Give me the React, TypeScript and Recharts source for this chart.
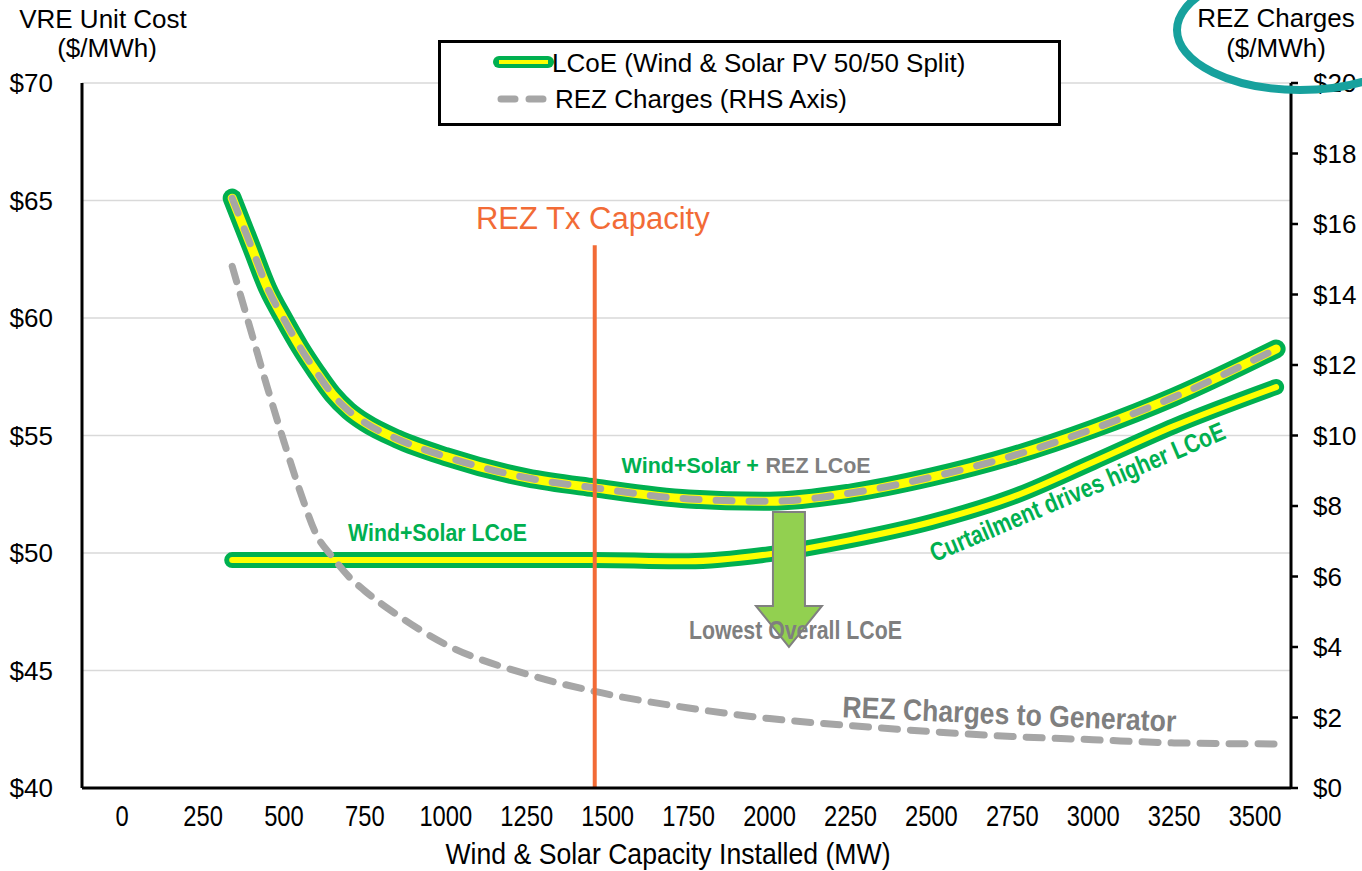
import {
  LineChart,
  Line,
  XAxis,
  YAxis,
  CartesianGrid,
  ReferenceLine,
  ReferenceDot,
  Legend,
} from 'recharts';

// Wind & solar capacity installed (MW)
const capacity = [340, 400, 450, 500, 550, 600, 650, 700, 750, 850, 1000, 1250, 1460, 1750, 2000, 2250, 2500, 2750, 3000, 3250, 3565];
// Wind+Solar + REZ LCoE ($/MWh, LHS)
const lcoeWithRez = [65.1, 63.0, 61.25, 59.95, 58.75, 57.7, 56.75, 56.05, 55.55, 54.85, 54.1, 53.2, 52.77, 52.3, 52.2, 52.55, 53.23, 54.13, 55.28, 56.64, 58.68];
// Wind+Solar LCoE ($/MWh, LHS)
const lcoeOnly = [49.7, 49.7, 49.7, 49.7, 49.7, 49.7, 49.7, 49.7, 49.7, 49.7, 49.7, 49.7, 49.7, 49.65, 49.95, 50.55, 51.32, 52.38, 53.87, 55.4, 57.06];
// REZ charges to generator ($/MWh, RHS)
const rezCharges = [14.8, 12.9, 11.32, 9.82, 8.41, 7.19, 6.55, 6.0, 5.59, 4.91, 4.07, 3.23, 2.74, 2.27, 1.97, 1.77, 1.6, 1.46, 1.37, 1.28, 1.25];

const xTicks = [0, 250, 500, 750, 1000, 1250, 1500, 1750, 2000, 2250, 2500, 2750, 3000, 3250, 3500];
const leftTicks = [40, 45, 50, 55, 60, 65, 70];
const rightTicks = [0, 2, 4, 6, 8, 10, 12, 14, 16, 18, 20];

const REZ_TX_CAPACITY = 1460;

const data = capacity.map((c, i) => ({
  capacity: c,
  lcoeRez: lcoeWithRez[i],
  lcoe: lcoeOnly[i],
  rez: rezCharges[i],
}));

const GREEN = '#00B050';
const YELLOW = '#FFFF00';
const GREY = '#A6A6A6';
const GREY_TEXT = '#7F7F7F';
const ORANGE = '#F26B36';
const SANS = "'Liberation Sans', Arial, sans-serif";

// the original uses a narrow face; squeeze regular glyphs to the measured widths
function XTick(p: any) {
  const label = String(p.payload.value);
  return (
    <text
      x={p.x}
      y={p.y}
      dy="0.71em"
      textAnchor="middle"
      fontSize={30}
      fontFamily={SANS}
      fill="#000"
      textLength={label.length * 13.2}
      lengthAdjust="spacingAndGlyphs"
    >
      {label}
    </text>
  );
}

function LegendBox() {
  return (
    <svg width={623} height={86} style={{ display: 'block' }}>
      <rect x={1.5} y={1.5} width={620} height={83} fill="#fff" stroke="#000" strokeWidth={3} />
      <line x1={61} y1={22} x2={110} y2={22} stroke={GREEN} strokeWidth={12} strokeLinecap="round" />
      <line x1={61} y1={22} x2={110} y2={22} stroke={YELLOW} strokeWidth={4} />
      <text x={114} y={32} fontSize={26} fontFamily={SANS} fill="#000">LCoE (Wind &amp; Solar PV 50/50 Split)</text>
      <line x1={63} y1={59} x2={112} y2={59} stroke={GREY} strokeWidth={7} strokeDasharray="14 14" strokeLinecap="round" />
      <text x={117} y={68} fontSize={26} fontFamily={SANS} fill="#000">REZ Charges (RHS Axis)</text>
    </svg>
  );
}

type TextOpts = { fill?: string; size?: number; anchor?: string; rotate?: number; central?: boolean; length?: number; dx?: number };

function textShape(label: string, opts: TextOpts) {
  return (p: any) => (
    <text
      x={p.cx + (opts.dx ?? 0)}
      y={p.cy}
      textAnchor={opts.anchor ?? 'start'}
      dominantBaseline={opts.central ? 'central' : 'alphabetic'}
      fontSize={opts.size ?? 25}
      fontFamily={SANS}
      fontWeight="bold"
      fill={opts.fill ?? GREEN}
      textLength={opts.length}
      lengthAdjust={opts.length ? 'spacingAndGlyphs' : undefined}
      transform={opts.rotate ? `rotate(${opts.rotate} ${p.cx} ${p.cy})` : undefined}
    >
      {label}
    </text>
  );
}

function arrowShape(p: any) {
  const x = p.cx;
  const y = p.cy;
  const d = `M${x - 16},${y} L${x + 16},${y} L${x + 16},${y + 94} L${x + 33},${y + 94} L${x},${y + 135} L${x - 33},${y + 94} L${x - 16},${y + 94} Z`;
  return <path d={d} fill="#92D050" stroke="#808080" strokeWidth={2} />;
}

export default function App() {
  return (
    <div style={{ position: 'absolute', left: 0, top: 0, width: 1362, height: 871, background: '#fff', fontFamily: SANS }}>
      <LineChart width={1362} height={871} data={data} margin={{ top: 83, right: 0, bottom: 0, left: 0 }}>
        <CartesianGrid yAxisId="left" vertical={false} stroke="#D9D9D9" strokeWidth={1.5} />
        <XAxis
          dataKey="capacity"
          type="number"
          domain={[-124, 3611]}
          ticks={xTicks}
          allowDataOverflow
          height={83}
          axisLine={{ stroke: '#000', strokeWidth: 3 }}
          tickLine={false}
          tickSize={0}
          tickMargin={17}
          tick={XTick}
        />
        <YAxis
          yAxisId="left"
          domain={[40, 70]}
          ticks={leftTicks}
          width={82}
          axisLine={{ stroke: '#000', strokeWidth: 3 }}
          tickLine={false}
          tickSize={0}
          tickMargin={29}
          tickFormatter={(v: number) => `$${v}`}
          tick={{ fill: '#000', fontSize: 26, fontFamily: SANS }}
        />
        <YAxis
          yAxisId="right"
          orientation="right"
          domain={[0, 20]}
          ticks={rightTicks}
          width={71}
          axisLine={{ stroke: '#000', strokeWidth: 3 }}
          tickLine={{ stroke: '#000', strokeWidth: 2.5 }}
          tickSize={7}
          tickMargin={15}
          tickFormatter={(v: number) => `$${v}`}
          tick={{ fill: '#000', fontSize: 26, fontFamily: SANS }}
        />
        <Legend
          layout="vertical"
          align="center"
          verticalAlign="middle"
          wrapperStyle={{ left: 438, top: 40, width: 623, height: 86 }}
          content={() => <LegendBox />}
        />

        {/* Wind+Solar LCoE */}
        <Line yAxisId="left" type="monotone" dataKey="lcoe" stroke={GREEN} strokeWidth={16} strokeLinecap="round" strokeLinejoin="round" dot={false} activeDot={false} isAnimationActive={false} legendType="none" />
        <Line yAxisId="left" type="monotone" dataKey="lcoe" stroke={YELLOW} strokeWidth={6} strokeLinecap="round" dot={false} activeDot={false} isAnimationActive={false} legendType="none" />

        {/* REZ charges (RHS) */}
        <Line yAxisId="right" type="monotone" dataKey="rez" stroke={GREY} strokeWidth={7} strokeDasharray="16 13" strokeLinecap="round" dot={false} activeDot={false} isAnimationActive={false} legendType="none" />

        {/* Wind+Solar + REZ LCoE */}
        <Line yAxisId="left" type="monotone" dataKey="lcoeRez" stroke={GREEN} strokeWidth={19} strokeLinecap="round" strokeLinejoin="round" dot={false} activeDot={false} isAnimationActive={false} legendType="none" />
        <Line yAxisId="left" type="monotone" dataKey="lcoeRez" stroke={YELLOW} strokeWidth={9} strokeLinecap="round" dot={false} activeDot={false} isAnimationActive={false} legendType="none" />
        <Line yAxisId="left" type="monotone" dataKey="lcoeRez" stroke={GREY} strokeWidth={7} strokeDasharray="16 17" strokeLinecap="round" dot={false} activeDot={false} isAnimationActive={false} legendType="none" />

        <ReferenceLine
          yAxisId="left"
          segment={[{ x: REZ_TX_CAPACITY, y: 40 }, { x: REZ_TX_CAPACITY, y: 63.1 }]}
          stroke={ORANGE}
          strokeWidth={4}
        />

        <ReferenceDot yAxisId="left" x={2060} y={51.75} r={1} shape={arrowShape} />

        <ReferenceDot
          yAxisId="left"
          x={1454}
          y={63.79}
          r={1}
          shape={(p: any) => (
            <text x={p.cx} y={p.cy} textAnchor="middle" fontSize={31} fontFamily={SANS} fill={ORANGE}>REZ Tx Capacity</text>
          )}
        />
        <ReferenceDot yAxisId="left" x={698} y={50.51} r={1} shape={textShape('Wind+Solar LCoE', { size: 24, length: 179 })} />
        <ReferenceDot yAxisId="left" x={1543} y={53.4} r={1} shape={textShape('Wind+Solar +', { size: 21.5 })} />
        <ReferenceDot yAxisId="left" x={1543} y={53.4} r={1} shape={textShape('REZ LCoE', { fill: GREY_TEXT, size: 21.5, dx: 144 })} />
        <ReferenceDot yAxisId="left" x={2080} y={46.34} r={1} shape={textShape('Lowest Overall LCoE', { fill: GREY_TEXT, size: 25, anchor: 'middle', length: 213 })} />
        <ReferenceDot yAxisId="left" x={2741} y={43.15} r={1} shape={textShape('REZ Charges to Generator', { fill: GREY_TEXT, size: 30, anchor: 'middle', rotate: 2.5, central: true, length: 334 })} />
        <ReferenceDot yAxisId="left" x={2951} y={52.6} r={1} shape={textShape('Curtailment drives higher LCoE', { size: 26, anchor: 'middle', rotate: -23, central: true, length: 318 })} />
      </LineChart>

      <svg width={1362} height={871} style={{ position: 'absolute', left: 0, top: 0, pointerEvents: 'none' }}>
        <text x={103} y={28} textAnchor="middle" fontSize={26} fontFamily={SANS} fill="#000">VRE Unit Cost</text>
        <text x={107} y={57} textAnchor="middle" fontSize={26} fontFamily={SANS} fill="#000">($/MWh)</text>
        <text x={1276} y={27} textAnchor="middle" fontSize={26} fontFamily={SANS} fill="#000">REZ Charges</text>
        <text x={1276} y={57} textAnchor="middle" fontSize={26} fontFamily={SANS} fill="#000">($/MWh)</text>
        <text x={668} y={864} textAnchor="middle" fontSize={30} fontFamily={SANS} fill="#000" textLength={445} lengthAdjust="spacingAndGlyphs">Wind &amp; Solar Capacity Installed (MW)</text>
        <ellipse cx={1300} cy={30} rx={123} ry={60} fill="none" stroke="#17A19D" strokeWidth={8} />
      </svg>
    </div>
  );
}
